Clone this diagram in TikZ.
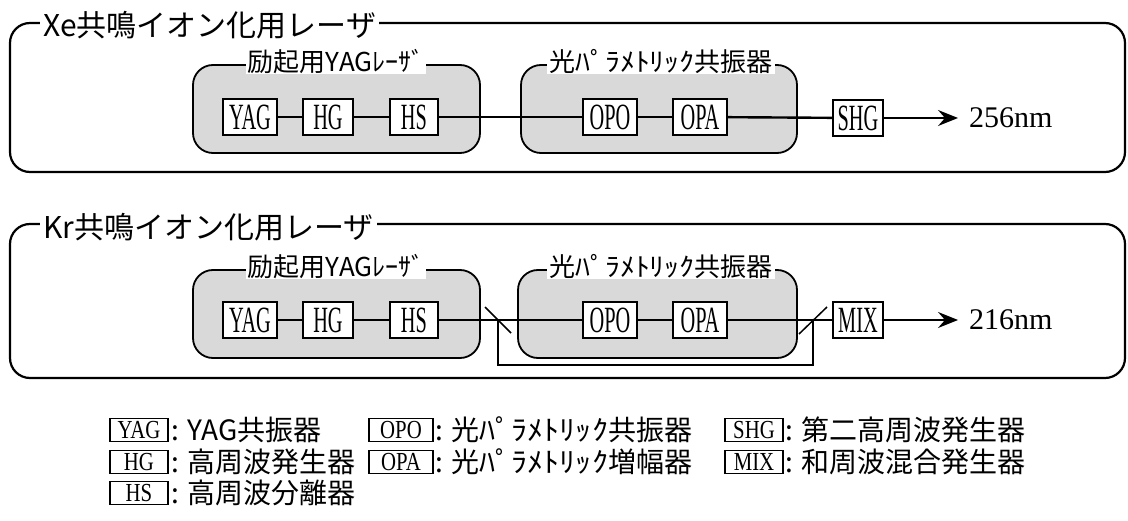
\documentclass[tikz,border=0pt]{standalone}
\usepackage{fontspec}
\usepackage{graphicx}
\setmainfont{Liberation Serif}
\newfontfamily\jp{Noto Sans CJK JP}
\usetikzlibrary{arrows.meta}
\newcommand\nar[1]{\scalebox{0.55}[1]{#1}}
\newcommand\lnar[1]{\scalebox{0.8}[1]{#1}}
\newcommand\hw[1]{\scalebox{1.15}[1]{#1}}
\tikzset{
  outerbox/.style={draw, line width=2.2pt, rounded corners=20pt},
  innerbox/.style={draw, line width=1.8pt, rounded corners=20pt, fill=black!15},
  comp/.style={draw, line width=1.8pt, fill=white, minimum height=36pt, inner sep=0pt,
    font=\fontsize{37}{37}\selectfont},
  titletxt/.style={anchor=west, fill=white, inner xsep=3pt, inner ysep=0pt,
    font=\jp\fontsize{30}{30}\selectfont},
  grouptxt/.style={fill=white, inner xsep=2pt, inner ysep=0pt,
    font=\jp\fontsize{26}{26}\selectfont},
  conn/.style={line width=2.4pt},
  thinconn/.style={line width=1.5pt},
  arr/.style={line width=1.6pt, -{Stealth[length=20pt,width=16pt,inset=7pt]}},
  outtxt/.style={anchor=west, inner sep=0pt, font=\fontsize{30}{30}\selectfont},
  legbox/.style={draw, line width=1.4pt, minimum height=23pt, inner sep=0pt,
    font=\fontsize{26}{26}\selectfont},
  legtxt/.style={anchor=west, inner sep=0pt, font=\jp\fontsize{28}{28}\selectfont},
}
\begin{document}
\begin{tikzpicture}[x=1pt,y=-1pt]
\useasboundingbox (0,0) rectangle (1128,521);

% ---------------- Xe ----------------
\draw[outerbox] (10,23) rectangle (1125,172);
\node[titletxt] (xet) at (40,25) {Xe共鳴イオン化用レーザ};
\draw[innerbox] (193,65) rectangle (480,153);
\draw[innerbox] (521,65) rectangle (797,153);
\node[grouptxt] (xg1) at (336,62) {励起用YAGﾚｰｻﾞ};
\node[grouptxt] (xg2) at (661,62) {光\hw{ﾊﾟﾗﾒﾄﾘｯｸ}共振器};

\node[comp, minimum width=54pt] (xyag) at (250,117) {\nar{YAG}};
\node[comp, minimum width=50pt] (xhg) at (328,117) {\nar{HG}};
\node[comp, minimum width=48pt] (xhs) at (414,117) {\nar{HS}};
\node[comp, minimum width=54pt] (xopo) at (610,117) {\nar{OPO}};
\node[comp, minimum width=54pt] (xopa) at (700,117) {\nar{OPA}};
\node[comp, minimum width=50pt] (xshg) at (858,118) {\nar{SHG}};
\coordinate (xend) at (958,118);
\node[outtxt] (xout) at (969,118) {256nm};

\draw[thinconn] (xyag) -- (xhg);
\draw[conn] (xhg) -- (xhs);
\draw[conn] (xhs) -- (xopo);
\draw[thinconn] (xopo) -- (xopa);
\draw[conn] (xopa) -- (xshg);
\draw[arr] (xshg) -- (xend);

% ---------------- Kr ----------------
\draw[outerbox] (10,224) rectangle (1125,378);
\node[titletxt] (krt) at (40,227) {Kr共鳴イオン化用レーザ};
\draw[innerbox] (193,270) rectangle (480,358);
\draw[innerbox] (518,270) rectangle (797,358);
\node[grouptxt] (kg1) at (336,267) {励起用YAGﾚｰｻﾞ};
\node[grouptxt] (kg2) at (661,267) {光\hw{ﾊﾟﾗﾒﾄﾘｯｸ}共振器};

\node[comp, minimum width=54pt] (kyag) at (250,320) {\nar{YAG}};
\node[comp, minimum width=50pt] (khg) at (328,320) {\nar{HG}};
\node[comp, minimum width=48pt] (khs) at (414,320) {\nar{HS}};
\node[comp, minimum width=54pt] (kopo) at (610,320) {\nar{OPO}};
\node[comp, minimum width=54pt] (kopa) at (700,320) {\nar{OPA}};
\node[comp, minimum width=50pt] (kmix) at (858,320) {\nar{MIX}};
\coordinate (kend) at (958,320);
\node[outtxt] (kout) at (969,320) {216nm};

\coordinate (m1) at (498,320);
\coordinate (m2) at (813,320);
\coordinate (b2) at (813,365);

\draw[conn] (kyag) -- (khg);
\draw[conn] (khg) -- (khs);
\draw[conn] (khs) -- (kopo);
\draw[thinconn] (kopo) -- (kopa);
\draw[conn] (kopa) -- (kmix);
\draw[arr] (kmix) -- (kend);
\draw[thinconn] (m1) +(-13,-13) -- +(13,13);
\draw[thinconn] (m2) +(-14,14) -- +(14,-13);
\draw[thinconn] (m1) |- (b2) -- (m2);

% ---------------- Legend ----------------
\node[legbox, minimum width=58pt] (lyag) at (139,430) {\lnar{YAG}};
\node[legtxt] (lyagt) at (171,430) {: YAG共振器};
\node[legbox, minimum width=58pt] (lhg) at (139,462) {\lnar{HG}};
\node[legtxt] (lhgt) at (171,462) {: 高周波発生器};
\node[legbox, minimum width=58pt] (lhs) at (139,493) {\lnar{HS}};
\node[legtxt] (lhst) at (171,493) {: 高周波分離器};

\node[legbox, minimum width=64pt] (lopo) at (401,430) {\lnar{OPO}};
\node[legtxt] (lopot) at (435,430) {: 光\hw{ﾊﾟﾗﾒﾄﾘｯｸ}共振器};
\node[legbox, minimum width=64pt] (lopa) at (401,462) {\lnar{OPA}};
\node[legtxt] (lopat) at (435,462) {: 光\hw{ﾊﾟﾗﾒﾄﾘｯｸ}増幅器};

\node[legbox, minimum width=58pt] (lshg) at (754,430) {\lnar{SHG}};
\node[legtxt] (lshgt) at (785,430) {: 第二高周波発生器};
\node[legbox, minimum width=58pt] (lmix) at (754,462) {\lnar{MIX}};
\node[legtxt] (lmixt) at (785,462) {: 和周波混合発生器};
\end{tikzpicture}
\end{document}
